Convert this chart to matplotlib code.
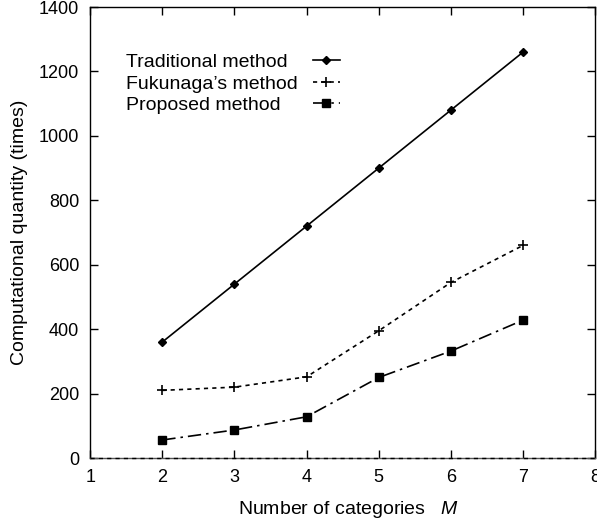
import matplotlib
matplotlib.use('Agg')
import matplotlib.pyplot as plt

plt.rcParams['font.family'] = ['Liberation Sans', 'DejaVu Sans']
plt.rcParams['mathtext.fontset'] = 'custom'
plt.rcParams['mathtext.it'] = 'Liberation Sans:italic'
plt.rcParams['mathtext.rm'] = 'Liberation Sans'

categories = [2, 3, 4, 5, 6, 7]
traditional = [360, 540, 720, 900, 1080, 1260]
fukunaga = [210, 220, 252, 395, 545, 660]
proposed = [56, 87, 128, 250, 332, 428]

fig = plt.figure(figsize=(5.97, 5.19), dpi=100)
ax = fig.add_axes([0.151, 0.1175, 0.846, 0.869])

ax.plot(categories, traditional, color='black', lw=1.2, linestyle='-',
        marker='D', markersize=4.5, label='Traditional method')
ax.plot(categories, fukunaga, color='black', lw=1.2, linestyle=(0, (2.5, 2.5)),
        marker='+', markersize=7, markeredgewidth=1.2, label="Fukunaga’s method")
ax.plot(categories, proposed, color='black', lw=1.2, linestyle=(0, (8, 3, 1.5, 3)),
        marker='s', markersize=5.8, label='Proposed method')

# zero axis drawn dashed over the bottom frame line
ax.axhline(0, color='black', lw=1, linestyle=(0, (3, 3)), clip_on=False, zorder=3)

ax.set_xlim(1, 8)
ax.set_ylim(0, 1400)
ax.set_xticks(range(1, 9))
ax.set_yticks(range(0, 1401, 200))
ax.tick_params(direction='in', length=6, width=1, top=True, right=True,
               labelsize=13, pad=8)
for s in ax.spines.values():
    s.set_linewidth(1)
ax.spines['bottom'].set_color('#555555')

ax.set_xlabel('Number of categories $\\ \\ \\it{M}$', fontsize=14, labelpad=9)
ax.xaxis.label.set_x(0.512)
ax.set_ylabel('Computational quantity (times)', fontsize=14, labelpad=8)

leg = ax.legend(loc='upper left', bbox_to_anchor=(0.071, 0.897), frameon=False,
                markerfirst=False, fontsize=14, borderpad=0, borderaxespad=0,
                labelspacing=0.2, handlelength=1.4, handletextpad=0.77)

# left-align the legend texts while keeping the samples in one column
fig.canvas.draw()
renderer = fig.canvas.get_renderer()
texts = leg.get_texts()
widths = [t.get_window_extent(renderer).width * 72 / fig.dpi for t in texts]
wmax = max(widths)
items = []
for col in leg._legend_handle_box.get_children():
    items.extend(col.get_children())
for item, w in zip(items, widths):
    item.sep = item.sep + (wmax - w)

plt.savefig('out.png', dpi=100)
plt.close()
